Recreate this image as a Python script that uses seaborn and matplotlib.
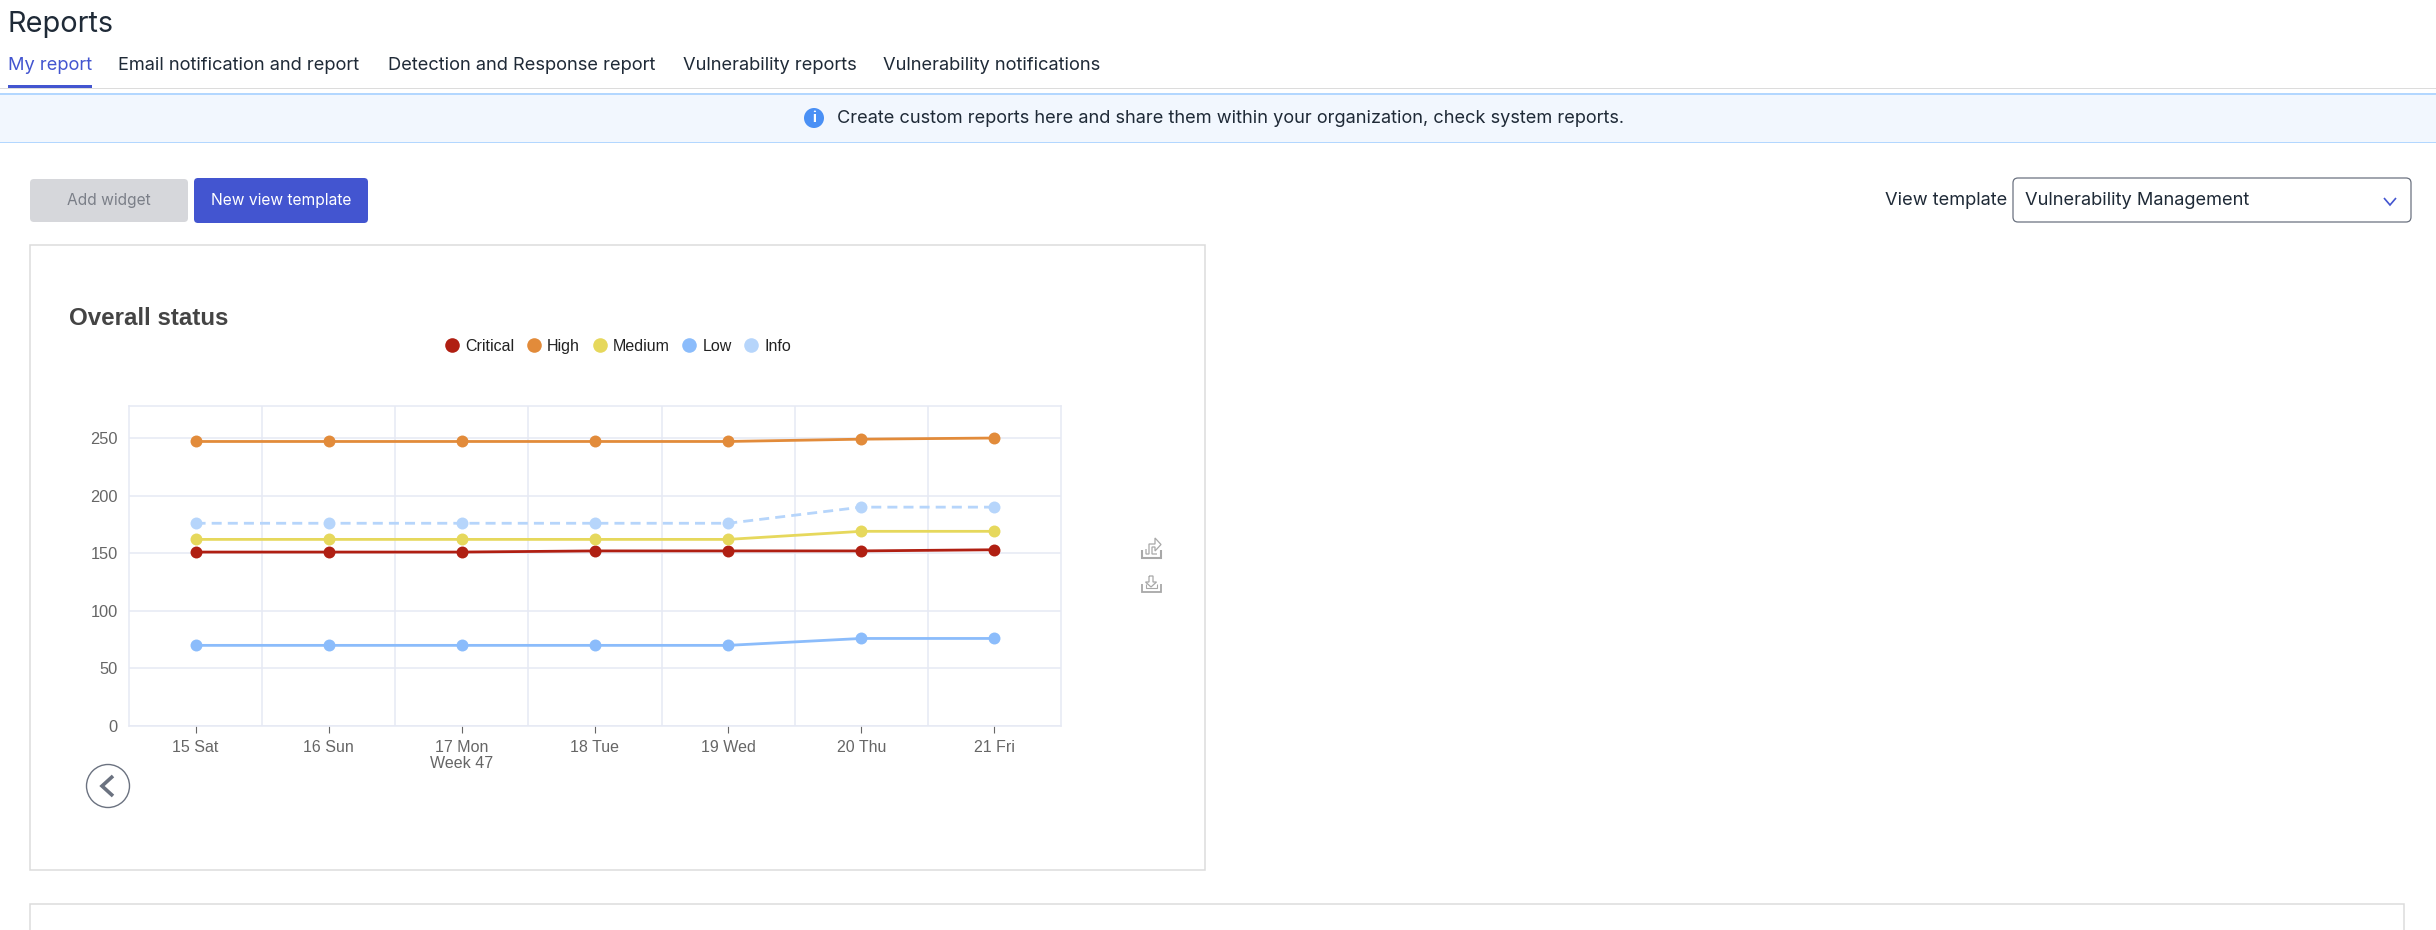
import matplotlib
matplotlib.use("Agg")
import matplotlib.pyplot as plt
from matplotlib.lines import Line2D
from matplotlib.patches import FancyBboxPatch, Rectangle, Circle
import pandas as pd
import seaborn as sns

days = ["15 Sat", "16 Sun", "17 Mon\nWeek 47", "18 Tue", "19 Wed", "20 Thu", "21 Fri"]
critical = [151, 151, 151, 152, 152, 152, 153]
high = [247, 247, 247, 247, 247, 249, 250]
medium = [162, 162, 162, 162, 162, 169, 169]
low = [70, 70, 70, 70, 70, 76, 76]
info = [176, 176, 176, 176, 176, 190, 190]
severities = ["Critical", "High", "Medium", "Low", "Info"]
series = [critical, high, medium, low, info]
colors = ["#b01f12", "#e28b3a", "#e6d85c", "#8bbcfb", "#b6d5fb"]
y_ticks = [0, 50, 100, 150, 200, 250]
tabs = ["My report", "Email notification and report", "Detection and Response report",
        "Vulnerability reports", "Vulnerability notifications"]
tab_x = [8, 118, 388, 683, 883]

sns.set_theme(style="white")
UI = "Inter"
CH = "Liberation Sans"
W, H = 2436, 930
GRID = "#e6e9f4"
BLUE = "#4355d0"
INK = "#1f2a37"

fig = plt.figure(figsize=(W / 100, H / 100), dpi=100, facecolor="white")
bg = fig.add_axes([0, 0, 1, 1], zorder=0)
bg.set_xlim(0, W)
bg.set_ylim(H, 0)
bg.axis("off")


def box(x0, y0, x1, y1, fc, ec="none", lw=1.0, r=0):
    if r:
        p = FancyBboxPatch((x0 + r, y0 + r), x1 - x0 - 2 * r, y1 - y0 - 2 * r,
                           boxstyle=f"round,pad={r},rounding_size={r}", fc=fc, ec=ec, lw=lw)
    else:
        p = Rectangle((x0, y0), x1 - x0, y1 - y0, fc=fc, ec=ec, lw=lw)
    bg.add_patch(p)


def txt(x, y, s, size, color=INK, family=UI, ha="left", weight="normal"):
    bg.text(x, y, s, fontsize=size, color=color, family=family, ha=ha, va="center", weight=weight)


def poly(xs, ys, color, lw=1.0):
    bg.plot(xs, ys, color=color, lw=lw, solid_joinstyle="miter", solid_capstyle="butt")


# page header
txt(8, 24, "Reports", 20.8, color="#1f2a37", weight="normal")
for i, (label, x) in enumerate(zip(tabs, tab_x)):
    txt(x, 65.8, label, 13.15, color=BLUE if i == 0 else INK)
box(0, 88, W, 89.5, "#dcdcdc")
box(8, 85, 92, 88, BLUE)

# banner
box(0, 94, W, 142, "#f2f7fe")
box(0, 93.5, W, 94.7, "#b3d7ff")
box(0, 141.7, W, 142.9, "#b3d7ff")
bg.add_patch(Circle((814, 118), 10, fc="#4a90f5", ec="none"))
txt(814, 118.5, "i", 10.5, color="white", ha="center", weight="bold")
txt(837, 118.8, "Create custom reports here and share them within your organization, check system reports.",
    13.1)

# toolbar
box(30, 179, 188, 222, "#d6d7db", r=4)
txt(109, 200.8, "Add widget", 11.2, color="#7b7f88", ha="center")
box(194, 178, 368, 223, BLUE, r=4)
txt(281, 200.8, "New view template", 11.2, color="white", ha="center")
txt(1885, 200.8, "View template", 13.15)
box(2013, 178, 2411, 222, "white", ec="#6b7280", lw=0.9, r=5)
txt(2025, 200.8, "Vulnerability Management", 13.15)
poly([2384, 2390, 2396], [198, 205, 198], BLUE, 1.2)

# cards
box(29.5, 245, 1205, 870, "white", ec="#dcdcdc", lw=1.1)
box(29.5, 904, 2404, 960, "white", ec="#dcdcdc", lw=1.1)
txt(69, 318.5, "Overall status", 17.4, color="#444444", family=CH, weight="bold")

# previous button
bg.add_patch(Circle((108, 786), 21.5, fc="white", ec="#6b7280", lw=1.0))
poly([113, 102, 113], [776, 786, 796], "#6b7280", 2.6)

# export icons
ICON = "#a8a8a8"
poly([1142, 1142, 1160.5, 1160.5], [550, 557.5, 557.5, 550], ICON, 1.5)
poly([1146, 1146, 1149, 1149, 1155, 1155, 1161, 1155, 1155, 1152, 1152, 1157],
     [549, 554, 554, 544, 544, 538, 544.5, 551, 547, 547, 554, 554], ICON, 0.9)
poly([1142, 1142, 1160.5, 1160.5], [584, 591.5, 591.5, 584], ICON, 1.3)
poly([1146, 1146, 1157, 1157], [584, 588, 588, 584], ICON, 0.8)
poly([1149, 1153, 1153, 1156.5, 1151, 1145.5, 1149, 1149],
     [576, 576, 582, 582, 587, 582, 582, 576], ICON, 0.9)

# chart
ax = fig.add_axes([129 / W, 1 - 726 / H, 932 / W, 320 / H], zorder=2)
ax.patch.set_alpha(0)

df = pd.DataFrame({
    "day": [i for _ in severities for i in range(len(days))],
    "count": [v for s in series for v in s],
    "severity": [name for name in severities for _ in days],
})
sns.lineplot(
    data=df, x="day", y="count", hue="severity", style="severity",
    hue_order=severities, palette=dict(zip(severities, colors)),
    dashes={"Critical": "", "High": "", "Medium": "", "Low": "", "Info": (3.6, 2.2)},
    markers={s: "o" for s in severities}, markersize=8.6, markeredgewidth=0,
    linewidth=2.0, ax=ax, legend=False, errorbar=None, zorder=3,
)
ax.set_xlim(-0.5, 6.5)
ax.set_ylim(0, 277.8)
ax.set_xlabel("")
ax.set_ylabel("")
ax.set_xticks(range(len(days)))
ax.set_xticklabels(days, family=CH, fontsize=11.5, color="#666666", linespacing=1.12)
ax.set_yticks(y_ticks)
ax.set_yticklabels(y_ticks, family=CH, fontsize=11.8, color="#666666")
ax.tick_params(axis="x", length=5, width=0.8, color="#666666", pad=5, bottom=True)
ax.tick_params(axis="y", length=0, pad=8)
ax.set_xticks([i - 0.5 for i in range(1, len(days))], minor=True)
ax.tick_params(axis="x", which="minor", length=0)
ax.grid(True, axis="y", which="major", color=GRID, lw=1.1)
ax.grid(True, axis="x", which="minor", color=GRID, lw=1.1)
ax.grid(False, axis="x", which="major")
ax.set_axisbelow(True)
for sp in ax.spines.values():
    sp.set_color(GRID)
    sp.set_linewidth(1.1)

handles = [Line2D([], [], ls="none", marker="o", ms=10.5, mew=0, color=c, label=n)
           for n, c in zip(severities, colors)]
fig.legend(handles=handles, ncol=5, frameon=False, loc="center",
           bbox_to_anchor=(615.5 / W, 1 - 346 / H), prop={"family": CH, "size": 11.5},
           labelcolor="#222222", handletextpad=0.05, columnspacing=0.45, handlelength=1.55)

fig.savefig("out.png", dpi=100)
